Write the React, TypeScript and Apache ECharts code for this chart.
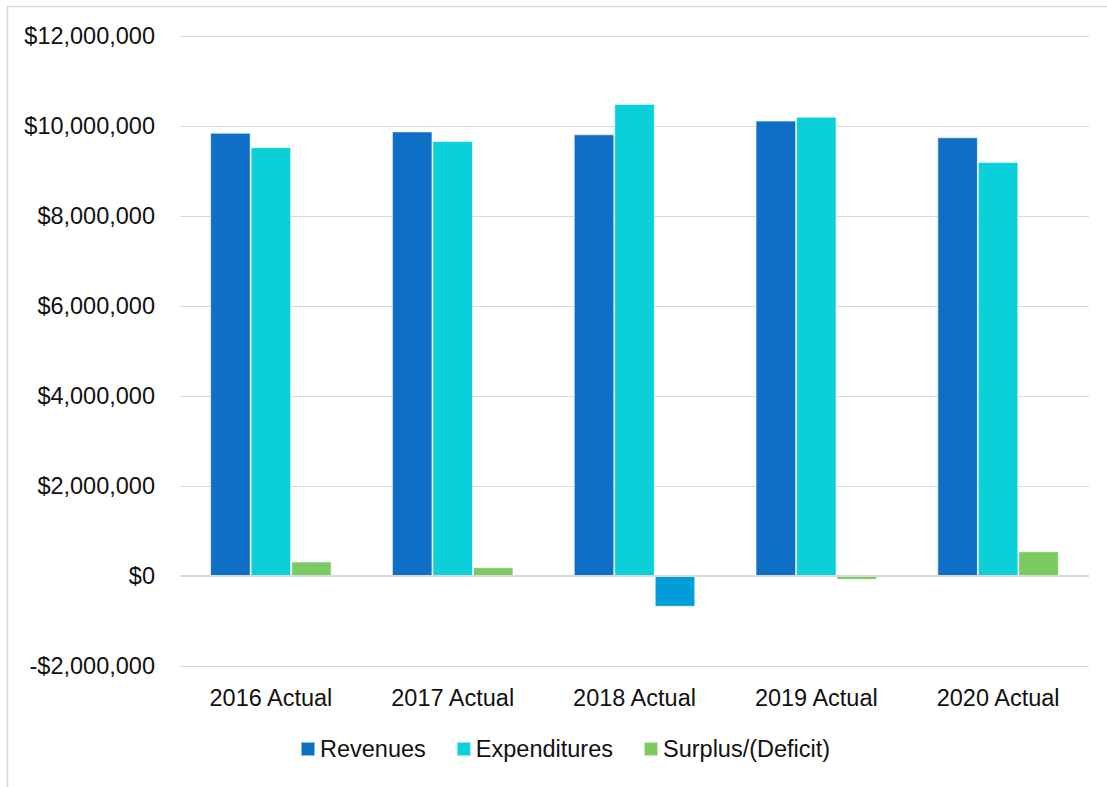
import React, { useEffect, useRef } from "react";
import * as echarts from "echarts";

const categories = ["2016 Actual", "2017 Actual", "2018 Actual", "2019 Actual", "2020 Actual"];
const revenues = [9850000, 9880000, 9815000, 10120000, 9750000];
const expenditures = [9530000, 9665000, 10490000, 10205000, 9200000];
const surplus = [320000, 195000, -685000, -85000, 550000];
const seriesNames = ["Revenues", "Expenditures", "Surplus/(Deficit)"];
const highlightedDeficit = "2018 Actual";

const FONT = "'Liberation Sans', Arial, sans-serif";

function fmt(v: number): string {
  const s = "$" + Math.abs(v).toLocaleString("en-US");
  return v < 0 ? "-" + s : s;
}

export default function App() {
  const ref = useRef<HTMLDivElement>(null);
  useEffect(() => {
    if (!ref.current) return;
    const chart = echarts.init(ref.current, undefined, { renderer: "svg" });
    const border = { borderColor: "rgba(255,255,255,0.55)", borderWidth: 1 };
    chart.setOption({
      animation: false,
      backgroundColor: "#ffffff",
      textStyle: { fontFamily: FONT },
      graphic: [
        {
          type: "rect",
          shape: { x: 7.5, y: 6.5, width: 1300, height: 1000 },
          style: { fill: "none", stroke: "#d9d9d9", lineWidth: 1.5 },
          silent: true,
          z: -1,
        },
      ],
      grid: { left: 180, right: 18, top: 36, bottom: 121 },
      legend: {
        data: seriesNames,
        left: 295,
        top: 732,
        icon: "rect",
        itemWidth: 14,
        itemHeight: 14,
        itemGap: 30,
        textStyle: { fontSize: 23.5, color: "#111111", fontFamily: FONT },
      },
      xAxis: {
        type: "category",
        data: categories,
        axisLine: { show: false, onZero: false },
        axisTick: { show: false },
        axisLabel: { fontSize: 23.5, color: "#111111", margin: 20, fontFamily: FONT },
      },
      yAxis: {
        type: "value",
        min: -2000000,
        max: 12000000,
        interval: 2000000,
        axisLine: { show: false },
        axisTick: { show: false },
        splitLine: { lineStyle: { color: "#d9d9d9", width: 1 } },
        axisLabel: {
          fontSize: 23.5,
          color: "#111111",
          margin: 25,
          fontFamily: FONT,
          formatter: (v: number) => fmt(v),
        },
      },
      series: [
        {
          name: seriesNames[0],
          type: "bar",
          data: revenues,
          barWidth: 40.5,
          barGap: "0%",
          itemStyle: { color: "#0F6FC6", ...border },
          markLine: {
            silent: true,
            symbol: "none",
            label: { show: false },
            lineStyle: { color: "#d9d9d9", width: 2, type: "solid" },
            data: [{ yAxis: 0 }],
          },
        },
        {
          name: seriesNames[1],
          type: "bar",
          data: expenditures,
          barWidth: 40.5,
          barGap: "0%",
          itemStyle: { color: "#0BD0D9", ...border },
        },
        {
          name: seriesNames[2],
          type: "bar",
          data: surplus.map((v, i) =>
            categories[i] === highlightedDeficit ? { value: v, itemStyle: { color: "#009DD9" } } : v
          ),
          barWidth: 40.5,
          barGap: "0%",
          itemStyle: { color: "#7CCA62", ...border },
        },
      ],
    });
    return () => chart.dispose();
  }, []);
  return (
    <div style={{ position: "fixed", left: 0, top: 0, width: 1107, height: 787, overflow: "hidden", background: "#fff" }}>
      <div ref={ref} style={{ width: 1107, height: 787 }} />
    </div>
  );
}
